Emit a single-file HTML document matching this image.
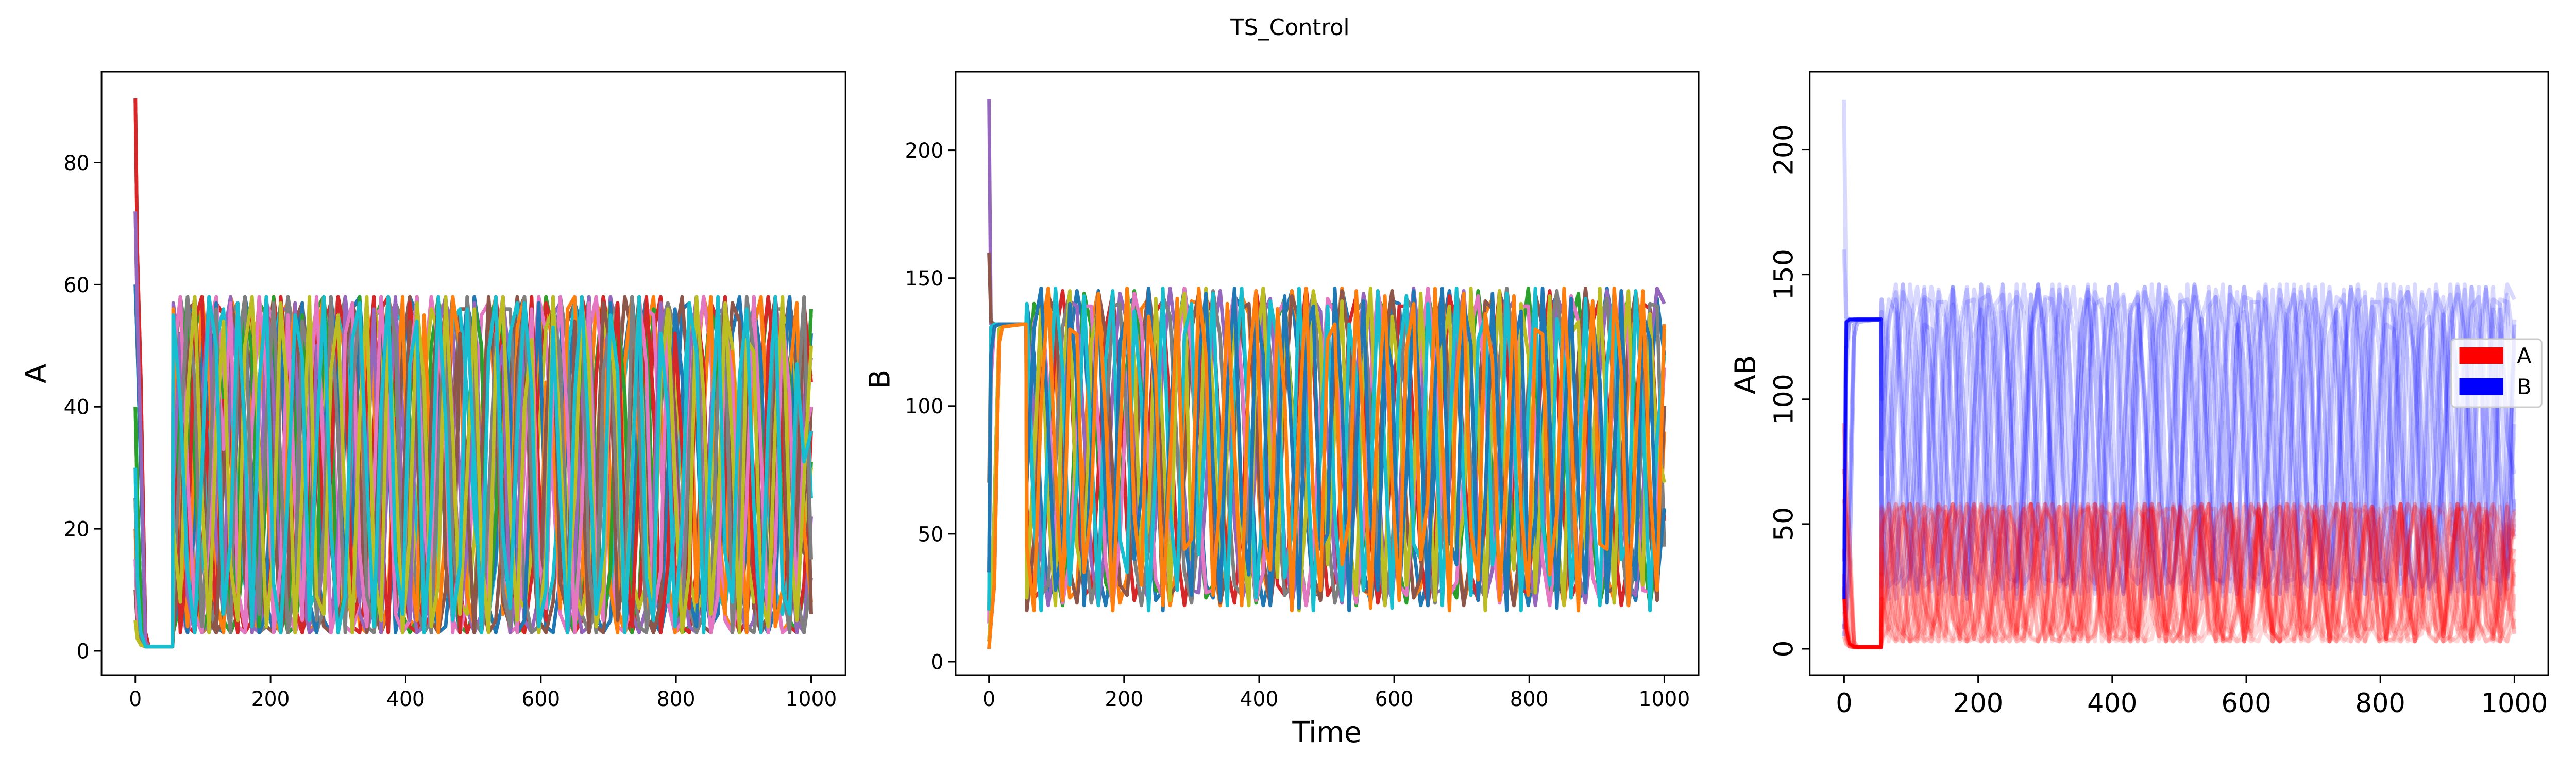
<!DOCTYPE html>
<html><head><meta charset="utf-8"><style>
html,body{margin:0;padding:0;background:#fff;overflow:hidden;width:100%;height:100%;}
svg{display:block;width:100vw;height:100vh;font-family:"DejaVu Sans","Liberation Sans",sans-serif;}
</style></head><body>
<svg id="fig" width="5100" height="1500" viewBox="0 0 5100 1500" preserveAspectRatio="none" xmlns="http://www.w3.org/2000/svg">
<rect width="5100" height="1500" fill="#fff"/>
<text x="2554" y="68" font-size="44" text-anchor="middle">TS_Control</text>
</svg>
<script>
const colors=["#1f77b4","#ff7f0e","#2ca02c","#d62728","#9467bd","#8c564b","#e377c2","#7f7f7f","#bcbd22","#17becf"];
const transT=[0,3,8,15,20,50,55];
const transA=[[60,50,30,1,0.7,0.7,0.7],[20,8,2,0.8,0.7,0.7,0.7],[40,25,8,0.9,0.7,0.7,0.7],[90.5,65,45,3,0.7,0.7,0.7],[72,55,35,1.5,0.7,0.7,0.7],[10,4,1,0.7,0.7,0.7,0.7],[15,6,1,0.7,0.7,0.7,0.7],[25,10,2,0.7,0.7,0.7,0.7],[5,2,1,0.7,0.7,0.7,0.7],[30,12,3,0.7,0.7,0.7,0.7]];
const transB=[[8,20,60,130,132,132,132],[20,131,132,132,132,132,132],[35,120,131,132,132,132,132],[5,15,30,125,131,132,132],[220,132,132,132,132,132,132],[160,133,132,132,132,132,132],[15,110,131,132,132,132,132],[70,128,132,132,132,132,132]];
const seriesA=[
[5,30,55,57,40,12,4,3,20,48,58,52,30,8,3,6,25,50,57,45,15,5,3,10,38,56,58,40,12,4,5,22,47,58,55,33,9,3,4,18,44,57,51,26,7,3,8,35,55,58,42,14,4,3,12,40,57,53,28,6,3,5,24,49,58,46,17,5,3,9,36,56,57,38,11,4,6,27,52,58,44,16,5,3,14,41,57,50,23,6],
[50,56,35,10,3,4,15,42,58,54,28,6,3,9,33,55,57,39,11,3,5,21,50,58,47,18,4,3,12,45,58,52,24,5,4,16,40,57,55,30,8,3,7,29,53,58,43,13,4,3,19,48,58,49,20,5,3,11,38,57,54,27,7,3,6,26,51,58,41,12,3,4,17,46,58,53,25,6,3,8,34,56,56,36,10,3,5,23,49,45],
[3,8,28,52,58,46,20,5,3,6,18,44,57,55,31,9,3,4,13,39,56,58,40,14,4,3,10,33,54,57,48,22,6,3,5,24,50,58,45,16,4,3,7,30,55,57,37,11,3,4,15,42,58,52,26,7,3,6,21,47,58,50,23,5,3,9,35,56,55,32,8,3,4,12,43,57,51,27,7,3,5,19,46,58,49,21,5,3,10,31],
[30,12,4,3,14,40,57,55,33,9,3,5,20,47,58,49,22,6,3,8,29,53,57,42,13,4,3,11,37,56,58,41,15,4,3,9,32,55,56,35,10,3,6,23,49,58,47,18,5,3,12,41,57,53,29,7,3,5,18,45,58,51,25,6,3,7,27,52,58,43,14,4,3,13,39,57,54,30,8,3,5,22,48,58,46,17,4,3,11,36],
[57,48,22,6,3,5,26,51,58,44,15,4,3,10,36,56,56,34,9,3,4,17,45,58,50,24,6,3,8,31,54,57,39,12,3,4,14,41,57,53,27,7,3,6,25,50,58,46,19,5,3,9,34,55,57,38,11,3,4,16,44,58,51,24,6,3,7,28,53,57,40,13,4,3,12,39,56,55,31,8,3,5,21,48,58,47,18,5,3,22],
[10,35,56,57,37,10,3,5,22,49,58,45,16,4,3,9,31,54,57,41,13,4,3,12,42,57,52,26,7,3,6,24,50,58,44,17,5,3,10,37,56,56,33,9,3,5,20,47,58,48,21,5,3,8,30,54,57,40,12,4,3,14,43,58,52,25,6,3,7,26,51,58,42,15,4,3,11,38,57,54,29,7,3,6,23,50,58,43,16,40],
[20,6,3,7,29,53,58,43,14,4,3,11,38,57,54,28,7,3,6,24,50,58,46,17,4,3,9,35,55,56,36,10,3,5,19,46,58,50,23,5,3,8,32,55,57,39,12,3,4,15,43,58,52,27,6,3,7,27,52,58,45,16,4,3,10,37,56,55,32,8,3,5,21,48,58,49,20,5,3,9,33,55,57,38,11,3,4,18,45,55],
[45,58,50,24,6,3,8,33,55,57,38,11,3,4,16,44,58,51,25,6,3,7,28,52,58,44,15,4,3,12,40,57,54,29,7,3,5,21,48,58,47,19,5,3,10,36,56,56,34,9,3,4,17,45,58,50,23,6,3,8,31,54,57,41,13,4,3,13,41,57,53,28,7,3,6,25,51,58,45,16,4,3,11,37,56,56,35,9,3,12],
[15,25,40,52,48,30,18,9,12,28,45,55,50,35,20,8,5,14,32,50,56,44,26,12,6,10,27,47,57,49,31,15,7,9,24,43,56,52,36,19,8,6,18,39,55,54,38,21,9,7,16,35,53,56,41,23,10,6,13,31,51,57,45,27,12,7,11,29,49,57,47,29,13,6,10,26,46,56,50,33,16,8,9,22,42,55,53,37,20,30],
[40,22,10,6,14,33,51,56,42,24,11,6,12,30,49,57,46,27,12,7,10,26,45,56,51,34,17,8,8,21,41,55,54,38,20,9,7,17,37,54,56,42,23,10,6,14,33,52,57,45,26,11,6,12,29,49,57,48,30,13,7,10,25,45,56,52,35,17,8,8,21,40,55,54,39,21,9,7,17,36,53,56,43,24,10,6,14,32,50,25],
[4,9,3,22,51,38,57,12,5,44,58,27,3,6,49,55,18,40,57,8,3,31,58,46,6,20,53,4,14,57,35,3,9,48,58,22,5,37,56,11,3,26,58,50,7,15,54,41,3,5,33,57,19,47,58,6,3,42,55,24,8,57,38,4,12,50,58,16,3,29,56,45,9,4,39,58,21,52,35,5,18,57,48,3,7,44,58,13,30,52],
[56,20,4,35,58,47,8,3,25,55,12,41,58,30,5,3,46,57,17,6,52,58,34,4,11,48,26,57,43,3,8,39,58,15,5,55,29,3,21,58,50,9,4,33,57,40,6,14,53,58,23,3,44,37,7,56,58,19,4,27,51,10,3,47,58,32,5,16,57,42,3,24,55,8,38,58,13,6,49,28,3,53,58,36,4,10,45,57,20,8],
[12,45,58,31,3,7,52,40,5,18,57,49,4,28,58,14,3,36,55,23,6,58,44,3,10,47,58,26,4,15,56,33,3,41,58,9,5,54,38,17,3,30,57,50,6,22,58,11,4,43,52,3,19,57,35,7,3,48,58,25,5,13,55,42,3,34,58,16,8,51,29,4,39,58,21,3,46,56,10,6,27,58,37,4,17,53,45,3,31,56],
[38,3,15,54,58,24,6,41,11,3,50,57,33,4,20,58,45,7,3,35,56,17,29,58,52,5,9,43,58,22,3,38,13,57,48,4,6,31,58,40,3,24,55,16,8,57,46,3,12,39,58,28,5,49,21,3,36,58,53,6,10,44,57,18,4,30,58,41,3,14,52,33,7,56,47,3,20,58,26,5,42,12,3,50,58,35,6,23,57,44],
[27,52,9,3,40,58,18,6,47,55,30,3,12,58,42,5,23,57,15,4,50,36,3,19,58,48,8,28,56,3,33,58,21,5,45,12,3,53,58,39,6,17,57,27,4,43,50,3,11,58,34,7,25,56,46,3,14,40,58,20,5,51,32,3,37,58,9,22,57,44,4,6,48,58,28,3,16,55,38,5,30,58,12,4,46,54,19,3,41,48],
[3,16,47,58,36,5,3,28,57,52,12,4,44,58,25,3,9,55,41,6,33,58,18,4,49,57,29,3,13,58,46,7,21,54,35,3,40,58,14,5,52,26,3,31,58,43,8,4,47,57,20,3,37,58,11,6,54,32,3,24,57,50,5,15,45,58,27,3,8,53,39,4,29,58,17,6,42,57,23,3,34,58,10,5,50,47,4,19,57,6],
[48,58,29,6,3,19,50,33,57,10,4,37,58,45,3,14,55,24,5,41,58,31,3,8,52,57,16,4,27,58,39,6,3,46,58,21,9,54,34,3,18,57,43,5,11,49,58,26,3,32,56,15,7,44,58,37,3,23,57,12,5,51,40,3,28,58,47,6,13,56,30,4,38,58,19,3,9,53,45,5,25,58,33,3,16,55,42,7,35,40],
[8,33,58,44,4,25,56,13,3,49,58,21,6,38,57,30,3,11,54,47,5,20,58,35,3,43,56,9,5,28,58,51,4,15,57,39,3,32,55,18,7,58,45,3,24,52,10,4,41,58,28,3,17,56,48,6,36,58,14,3,46,53,22,5,58,38,3,12,50,57,26,4,34,58,16,6,43,55,3,21,58,49,8,30,57,11,3,39,58,15],
[20,8,42,58,25,3,36,54,14,5,50,58,32,4,17,57,41,3,27,58,9,6,46,55,22,3,38,58,13,5,53,30,3,19,57,44,4,11,58,36,6,29,56,16,3,48,58,23,5,40,51,3,15,58,33,7,25,57,47,4,10,54,37,3,31,58,18,5,45,56,27,3,13,58,42,6,22,57,34,3,51,49,9,4,37,58,20,5,28,50],
[55,41,13,3,30,58,50,6,18,57,36,4,44,58,11,3,26,55,48,5,34,58,20,3,9,51,57,28,4,40,58,15,6,47,54,3,23,58,38,5,14,56,31,3,49,58,19,7,36,57,43,4,10,53,25,3,42,58,34,6,17,55,46,3,29,58,12,5,52,39,4,21,57,49,3,33,58,16,8,45,56,24,3,38,58,10,6,47,31,36]];
const seriesB=[
[140,120,60,25,30,70,125,145,130,80,35,22,40,95,140,142,110,55,24,28,75,128,146,125,70,30,25,50,105,143,138,90,40,22,35,85,135,145,115,60,26,27,65,120,146,132,82,36,23,42,100,141,140,98,45,22,32,78,130,145,122,66,28,26,58,112,144,136,88,38,22,38,92,138,143,108,52,24,30,72,126,146,128,74,32,24,48,104,142,120],
[30,70,128,146,118,60,25,28,78,132,145,112,52,23,33,88,138,142,100,45,22,38,96,141,140,92,40,22,42,104,143,136,84,35,23,48,112,145,130,74,30,25,56,120,146,124,66,28,26,64,126,145,116,58,25,29,72,131,144,108,50,23,34,82,136,142,98,44,22,40,94,140,139,88,38,22,46,106,143,134,80,33,24,52,114,145,128,70,29,90],
[100,140,135,85,38,22,45,108,144,131,76,31,24,54,116,145,125,67,28,27,62,124,146,118,59,25,30,70,129,144,110,51,23,35,80,134,142,102,46,22,41,90,139,140,94,41,22,47,100,142,137,86,36,23,53,110,144,130,77,31,25,60,118,145,123,68,28,27,66,125,146,117,60,26,31,75,131,144,108,50,23,36,84,137,141,99,44,22,43,130],
[60,25,28,72,127,145,120,62,26,29,74,130,144,110,52,24,36,86,137,141,97,43,22,44,102,142,136,85,36,23,52,113,145,127,70,30,26,60,122,146,119,60,26,31,76,132,143,106,49,23,38,90,139,139,92,40,22,46,106,143,133,80,34,24,55,117,145,124,66,28,27,64,125,145,115,57,25,32,79,133,142,104,47,22,40,93,140,138,88,55],
[135,95,42,22,40,98,141,139,90,39,22,47,107,144,133,79,33,24,56,118,146,123,65,28,27,66,126,145,113,55,24,34,82,136,142,100,45,22,43,100,142,137,86,37,23,50,110,144,130,75,31,25,58,120,146,121,63,27,28,69,128,145,111,53,24,36,85,137,141,96,42,22,45,104,143,135,82,35,23,53,114,145,126,70,29,26,62,123,146,140],
[20,45,105,143,136,84,36,23,50,111,145,128,72,30,26,60,121,146,120,61,26,30,73,130,144,108,50,23,37,88,138,140,94,41,22,46,104,143,134,80,34,24,55,116,145,125,67,28,27,65,125,145,115,56,25,33,80,134,142,102,46,22,42,97,141,138,89,38,22,49,108,144,131,76,32,25,57,119,146,122,64,27,29,70,128,144,110,52,24,100],
[80,132,143,105,48,23,39,92,139,139,90,39,22,48,108,144,132,77,32,25,58,119,146,121,63,27,28,68,127,145,112,54,24,35,84,136,141,98,44,22,44,102,142,136,84,36,23,51,112,145,128,72,30,26,61,122,146,118,60,26,31,74,131,143,106,49,23,38,90,139,139,91,40,22,47,106,143,133,79,33,24,56,117,145,124,66,28,27,67,115],
[110,60,26,30,76,131,144,107,49,23,37,89,139,140,93,41,22,45,104,143,135,82,35,23,52,113,145,127,71,30,26,60,122,146,119,61,26,30,74,130,144,109,51,23,36,86,137,141,97,43,22,43,101,142,137,86,37,23,50,110,144,130,75,31,25,57,118,146,123,65,28,27,65,126,145,116,57,25,32,78,133,142,103,47,22,41,95,140,139,45],
[25,80,140,60,22,110,145,45,30,125,138,70,20,95,146,118,35,55,142,90,24,130,144,40,65,146,105,28,85,140,52,22,120,146,78,33,138,100,20,60,145,128,38,92,141,48,26,115,146,72,22,135,110,30,68,144,88,24,122,139,42,58,146,98,20,104,145,62,36,140,120,27,80,143,50,22,128,133,44,74,146,92,23,112,145,56,30,136,84,70],
[140,55,20,90,146,115,30,70,143,85,22,118,145,48,35,137,102,20,76,146,60,28,128,140,42,95,144,70,22,110,146,88,25,62,141,125,33,50,146,96,20,82,139,58,24,132,112,28,66,145,80,21,120,143,46,40,140,104,22,86,146,68,26,126,135,38,56,144,92,20,100,146,54,30,134,118,25,72,142,64,22,116,144,40,48,145,98,20,88,120],
[70,130,146,92,28,45,140,110,22,80,145,62,30,125,136,40,66,146,100,20,92,142,52,26,118,144,76,24,106,146,58,34,138,120,22,70,143,86,21,128,139,44,50,146,102,20,84,141,60,28,130,115,25,74,145,94,22,108,146,48,38,140,124,24,64,144,82,20,122,137,36,56,146,96,21,90,142,66,27,134,110,23,78,145,54,32,136,126,30,60],
[45,20,100,146,75,24,130,128,35,60,144,95,20,88,146,58,30,135,112,22,78,142,44,48,146,120,26,66,140,84,22,116,145,50,36,138,104,20,92,146,62,28,126,132,38,56,145,90,21,100,143,70,24,122,140,40,64,146,86,20,110,144,52,32,136,118,24,76,143,60,26,130,128,34,58,146,94,20,96,141,46,44,146,114,22,82,145,68,28,132]];
const xTicks=[0,200,400,600,800,1000];
const yTicksA=[0,20,40,60,80];
const yTicksB=[0,50,100,150,200];
const yTicksAB=[0,50,100,150,200];

const NS="http://www.w3.org/2000/svg";
const svg=document.getElementById('fig');
function mk(tag,attrs,parent){const e=document.createElementNS(NS,tag);for(const k in attrs)e.setAttribute(k,attrs[k]);(parent||svg).appendChild(e);return e;}
function tOf(i,n){return 56+i*(944/(n-1));}
function fullSeries(tr,st){const pts=[];transT.forEach((t,i)=>pts.push([t,tr[i]]));st.forEach((v,i)=>pts.push([tOf(i,st.length),v]));return pts;}

const panels=[
 {name:'panel-a',L:201,R:1674,T:139,B:1310,x0:268,x1:1606,y0:1263,yPer:(1263-315.5)/80,yt:yTicksA,label:'A',lx:71,ly:725,tf:40,rot:false},
 {name:'panel-b',L:1892,R:3363,T:139,B:1310,x0:1958,x1:3295,y0:1284,yPer:(1284-291.6)/200,yt:yTicksB,label:'B',lx:1741,ly:736,tf:40,rot:false},
 {name:'panel-ab',L:3583,R:5045,T:139,B:1310,x0:3651,x1:4978,y0:1259,yPer:(1259-290.6)/200,yt:yTicksAB,label:'AB',lx:3455,ly:727,tf:52,rot:true}
];
panels.forEach((p,pi)=>{
 const g=mk('g',{});
 
 
 const cid='clip'+pi;
 const cp=mk('clipPath',{id:cid},g);mk('rect',{x:p.L,y:p.T,width:p.R-p.L,height:p.B-p.T},cp);
 const X=t=>p.x0+(p.x1-p.x0)*t/1000;
 const Y=v=>p.y0-v*p.yPer;
 const lg=mk('g',{'clip-path':'url(#'+cid+')'},g);
 function line(pts,color,w,op,nm){
  const d=pts.map((q,i)=>(i?'L':'M')+X(q[0]).toFixed(1)+' '+Y(q[1]).toFixed(1)).join('');
  const e=mk('path',{d:d,fill:'none',stroke:color,'stroke-width':w,'stroke-opacity':op,'stroke-linejoin':'round'},lg);
  
  
 }
 if(pi===0){seriesA.forEach((s,i)=>line(fullSeries(transA[i%transA.length],s),colors[i%10],7,1,'series-a-'+i));}
 if(pi===1){seriesB.forEach((s,i)=>line(fullSeries(transB[i%transB.length],s),colors[i%10],7,1,'series-b-'+i));}
 if(pi===2){
  seriesB.forEach((s,i)=>line(fullSeries(transB[i%transB.length],s),'#0000ff',8,0.15,'series-b-overlay-'+i));
  seriesA.forEach((s,i)=>line(fullSeries(transA[i%transA.length],s),'#ff0000',8,0.15,'series-a-overlay-'+i));
  line(transT.map((t,i)=>[t,transB[1][i]]),'#0000ff',6,0.9,'transient-b');
  line(transT.map((t,i)=>[t,transA[1][i]]),'#ff0000',6,0.9,'transient-a');
 }
 const fr=mk('rect',{x:p.L,y:p.T,width:p.R-p.L,height:p.B-p.T,fill:'none',stroke:'#000','stroke-width':3},g);
 
 
 xTicks.forEach(t=>{
  mk('line',{x1:X(t),x2:X(t),y1:p.B,y2:p.B+15,stroke:'#000','stroke-width':3},g);
  const tx=mk('text',{x:X(t),y:p.B+20+p.tf,'font-size':p.tf,'text-anchor':'middle'},g);
  tx.textContent=t;
  
  
 });
 p.yt.forEach(v=>{
  mk('line',{x1:p.L-15,x2:p.L,y1:Y(v),y2:Y(v),stroke:'#000','stroke-width':3},g);
  let tx;
  if(p.rot){tx=mk('text',{x:0,y:0,'font-size':p.tf,'text-anchor':'middle',transform:'translate('+(p.L-34)+','+Y(v)+') rotate(-90)'},g);}
  else{tx=mk('text',{x:p.L-24,y:Y(v)+p.tf*0.36,'font-size':p.tf,'text-anchor':'end'},g);}
  tx.textContent=v;
  
  
 });
 const yl=mk('text',{x:0,y:0,'font-size':56,'text-anchor':'middle',transform:'translate('+(p.lx+20)+','+p.ly+') rotate(-90)'},g);
 yl.textContent=p.label;
 
 
});
const xl=mk('text',{x:2627,y:1440,'font-size':56,'text-anchor':'middle'});
xl.textContent='Time';


const leg=mk('g',{});


mk('rect',{x:4853,y:658,width:179,height:132,rx:8,fill:'#fff','fill-opacity':0.8,stroke:'#ccc','stroke-width':3},leg);
mk('rect',{x:4869,y:674,width:87,height:32,fill:'#ff0000'},leg);
mk('rect',{x:4869,y:734,width:87,height:33,fill:'#0000ff'},leg);
const la=mk('text',{x:4983,y:705,'font-size':42},leg);la.textContent='A';


const lb=mk('text',{x:4983,y:765,'font-size':42},leg);lb.textContent='B';


</script>
</body></html>
